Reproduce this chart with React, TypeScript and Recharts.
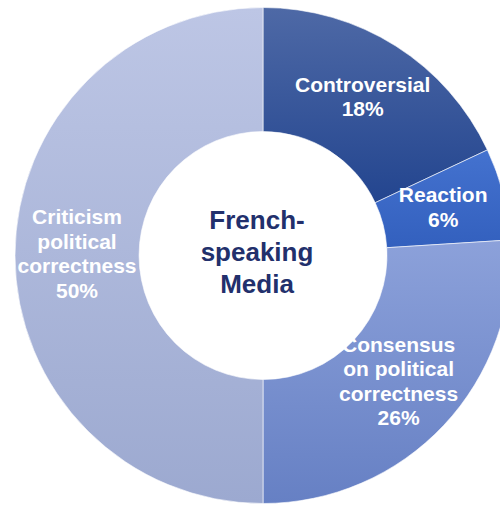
import { PieChart, Pie, Cell } from "recharts"

const categories = [
  "Controversial",
  "Reaction",
  "Consensus on political correctness",
  "Criticism political correctness",
]
const shares = [18, 6, 26, 50]
// label lines drawn inside each slice
const labelLines = [
  ["Controversial"],
  ["Reaction"],
  ["Consensus", "on political", "correctness"],
  ["Criticism", "political", "correctness"],
]
const centerLines = ["French-", "speaking", "Media"]

// vertical gradient per slice: [top, bottom]
const gradients = [
  ["#4E69A6", "#23458F"],
  ["#4472CF", "#3360BE"],
  ["#8CA1DA", "#6680C4"],
  ["#BDC6E5", "#9CA9D0"],
]

const data = categories.map((name, i) => ({ name, value: shares[i] }))

const RADIAN = Math.PI / 180
const FONT = "'Liberation Sans', Arial, sans-serif"

function renderLabel(props: any) {
  const { cx, cy, midAngle, innerRadius, outerRadius, index, value } = props
  const r = (innerRadius + outerRadius) / 2
  const x = cx + r * Math.cos(-midAngle * RADIAN)
  const y = cy + r * Math.sin(-midAngle * RADIAN)
  const lines = [...labelLines[index], `${value}%`]
  const lh = 24.5
  const top = y - ((lines.length - 1) * lh) / 2 - 2
  return (
    <text
      key={`lbl-${index}`}
      x={x}
      y={top}
      fill="#ffffff"
      textAnchor="middle"
      fontFamily={FONT}
      fontWeight="bold"
      fontSize={21}
    >
      {lines.map((t, i) => (
        <tspan key={i} x={x} y={top + i * lh} dominantBaseline="central">
          {t}
        </tspan>
      ))}
    </text>
  )
}

export default function App() {
  const cx = 263
  const cy = 255.5
  return (
    <div style={{ position: "absolute", left: 0, top: 0, width: 500, height: 505, background: "#fff" }}>
      <PieChart width={500} height={505} margin={{ top: 0, right: 0, bottom: 0, left: 0 }}>
        <defs>
          {gradients.map(([a, b], i) => (
            <linearGradient key={i} id={`g${i}`} x1="0" y1="0" x2="0" y2="1">
              <stop offset="0%" stopColor={a} />
              <stop offset="100%" stopColor={b} />
            </linearGradient>
          ))}
        </defs>
        <Pie
          data={data}
          dataKey="value"
          nameKey="name"
          cx={cx}
          cy={cy}
          innerRadius={124}
          outerRadius={248}
          startAngle={90}
          endAngle={-270}
          stroke="#ffffff"
          strokeWidth={0.6}
          label={renderLabel}
          labelLine={false}
          isAnimationActive={false}
        >
          {data.map((d, i) => (
            <Cell key={d.name} fill={`url(#g${i})`} />
          ))}
        </Pie>
        <text
          x={cx - 6}
          y={cy}
          textAnchor="middle"
          fill="#22306C"
          fontFamily={FONT}
          fontWeight="bold"
          fontSize={26}
        >
          {centerLines.map((t, i) => (
            <tspan key={i} x={cx - 6} y={cy - 36 + i * 32} dominantBaseline="central">
              {t}
            </tspan>
          ))}
        </text>
      </PieChart>
    </div>
  )
}
